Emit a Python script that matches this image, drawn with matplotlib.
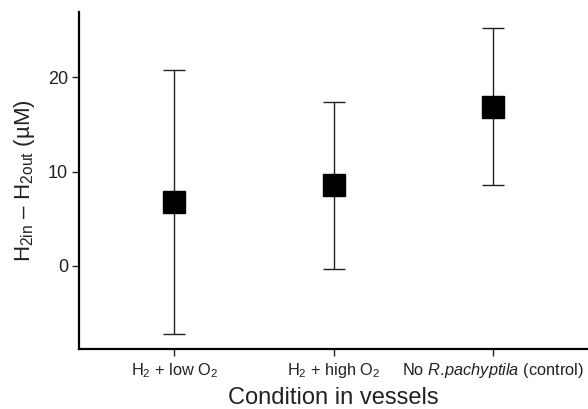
import numpy as np
import matplotlib
matplotlib.use('Agg')
import matplotlib.pyplot as plt

plt.rcParams['font.family'] = ['Liberation Sans', 'DejaVu Sans']
plt.rcParams['mathtext.fontset'] = 'custom'
plt.rcParams['mathtext.rm'] = 'Liberation Sans'
plt.rcParams['mathtext.it'] = 'Liberation Sans:italic'
plt.rcParams['mathtext.bf'] = 'Liberation Sans:bold'

# Données
conditions = [r'H$_2$ + low O$_2$', r'H$_2$ + high O$_2$', r'No $\mathit{R.\!pachyptila}$ (control)']
moyennes = [6.75, 8.55, 16.9]
bas = [-7.25, -0.3, 8.55]
haut = [20.75, 17.35, 25.2]

x = np.arange(1, len(conditions) + 1)
err = [np.array(moyennes) - np.array(bas), np.array(haut) - np.array(moyennes)]

fig = plt.figure(figsize=(5.88, 4.09), dpi=100)
ax = fig.add_axes([0.1344, 0.1467, 0.8656, 0.8233])

ax.errorbar(x, moyennes, yerr=err, fmt='s', color='black', ecolor='#222222',
            elinewidth=1.0, capsize=8, capthick=1.0, markersize=15.5)

ax.set_xlim(0.4, 3.6)
ax.set_ylim(-8.8, 26.9)
ax.set_yticks([0, 10, 20])
ax.set_xticks(x)
ax.set_xticklabels(conditions, fontsize=11.8)
ax.tick_params(axis='y', labelsize=13, length=5, width=1, pad=3, colors='#222222')
ax.tick_params(axis='x', length=5, width=1, pad=4, colors='#222222')

for s in ['top', 'right']:
    ax.spines[s].set_visible(False)
for s in ['left', 'bottom']:
    ax.spines[s].set_linewidth(1.6)

ax.set_xlabel('Condition in vessels', fontsize=17, labelpad=5, color='#222222')
ax.set_ylabel(r'H$_{\rm 2in}$ – H$_{\rm 2out}$ (µM)', fontsize=16, labelpad=8, color='#222222')

fig.savefig('out.png', dpi=100)
